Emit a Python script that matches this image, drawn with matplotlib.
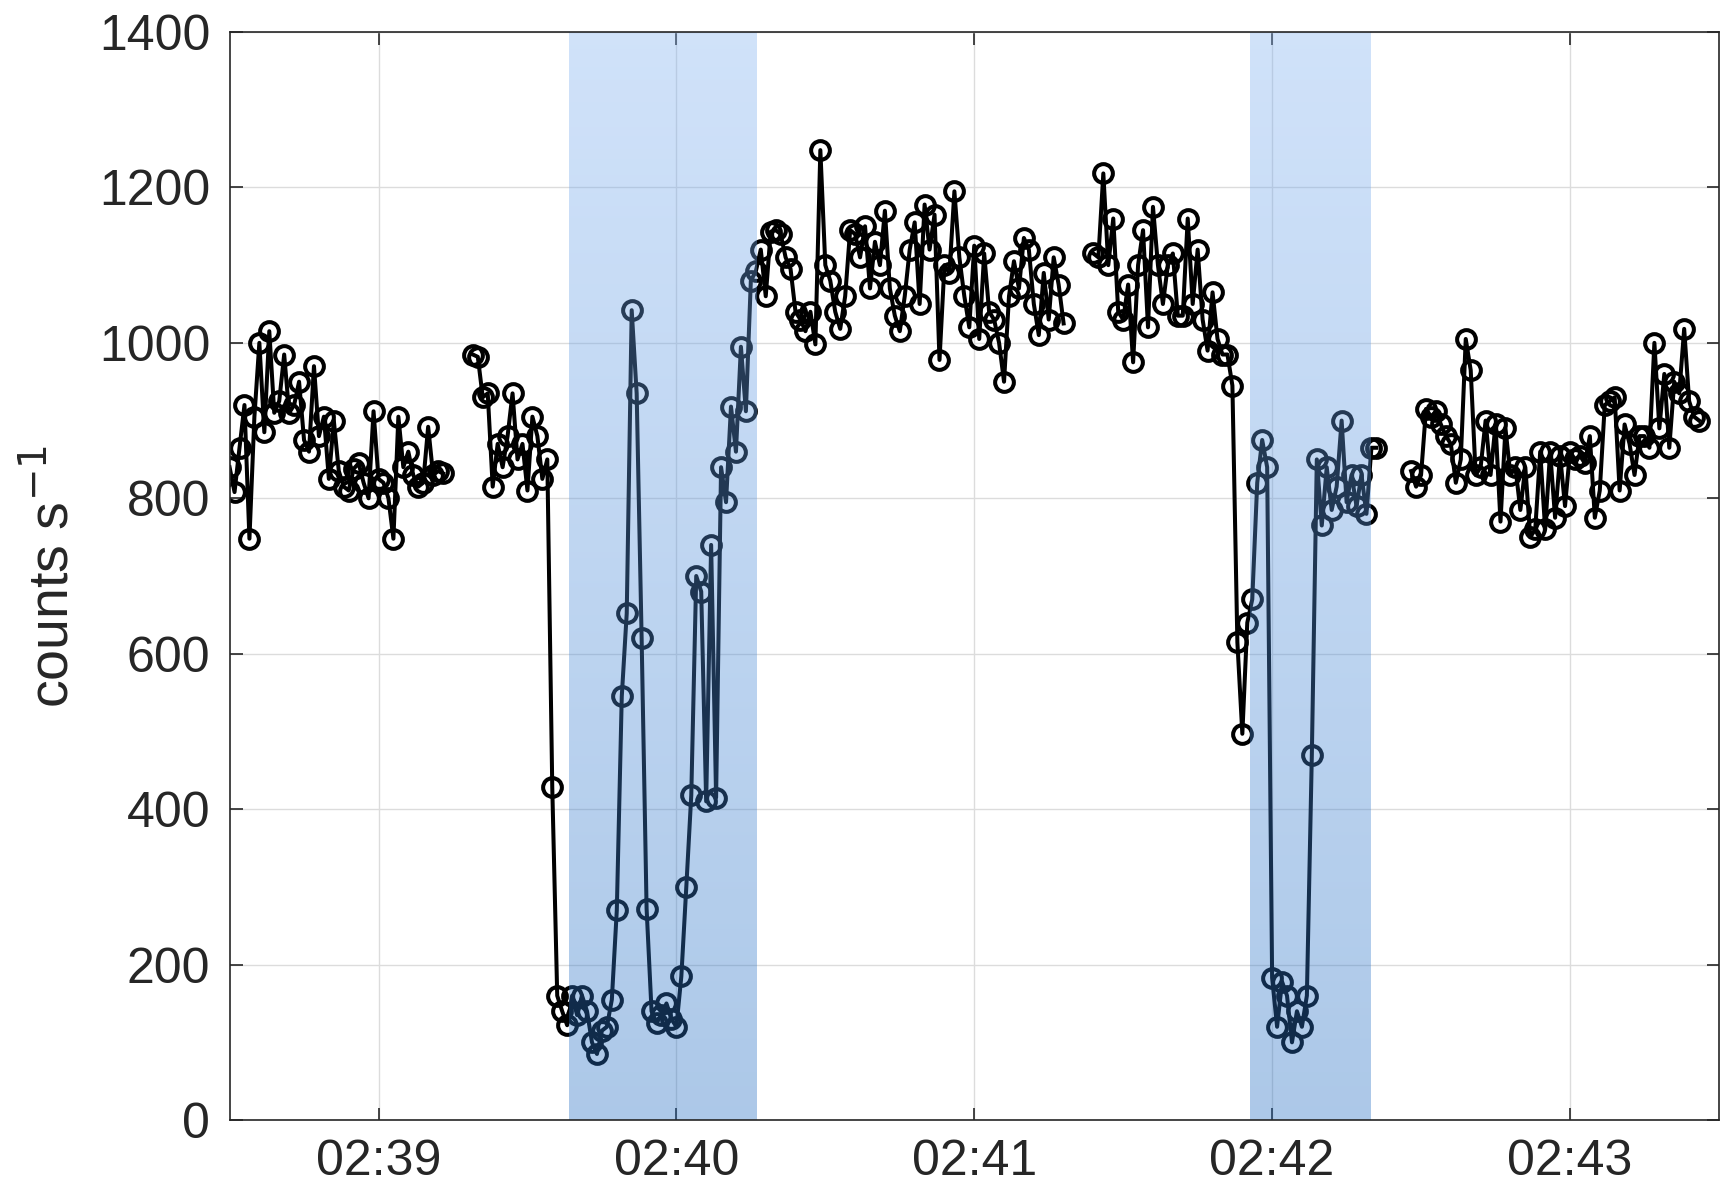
import numpy as np
import pandas as pd
import matplotlib
matplotlib.use('Agg')
import matplotlib.pyplot as plt
import matplotlib.dates as mdates

plt.rcParams['font.family'] = ['Liberation Sans', 'DejaVu Sans']

# clock time only is shown; day is arbitrary
t0 = pd.Timestamp('2000-01-01 02:38:30')

# 1 s samples, each segment: start offset (s after 02:38:30) and counts s^-1
seg1_start = 0
seg1 = [840, 808, 865, 920, 748, 905, 1000, 885, 1015, 910, 925, 985, 910, 920, 950,
        875, 860, 970, 880, 905, 825, 900, 835, 815, 810, 838, 845, 820, 800, 912,
        825, 820, 800, 748, 905, 840, 860, 830, 815, 820, 892, 830, 835, 832]

seg2_start = 49
seg2 = [985, 982, 930, 935, 815, 870, 840, 880, 935, 850, 870, 810, 905, 880, 825, 850,
        428, 160, 140, 122, 160, 135, 160, 140, 100, 85, 115, 120, 155, 270, 545, 652,
        1042, 935, 620, 272, 140, 125, 135, 150, 130, 120, 185, 300, 418, 700, 680, 410,
        740, 415, 840, 795, 918, 860, 995, 912, 1080,
        1092, 1120, 1060, 1143, 1145, 1140, 1110, 1095, 1040, 1030, 1015, 1040, 998, 1248,
        1100, 1080, 1040, 1018, 1060, 1145, 1140, 1110, 1150, 1070, 1130, 1100, 1170, 1070,
        1035, 1015, 1060, 1120, 1155, 1050, 1178, 1120, 1165, 978, 1100, 1090, 1195, 1110,
        1060, 1020, 1125, 1005, 1115, 1040, 1030, 1000, 950, 1060, 1105, 1070, 1135, 1120,
        1050, 1010, 1090, 1030, 1110, 1075, 1025]

seg3_start = 174
seg3 = [1115, 1110, 1218, 1100, 1160, 1040, 1030, 1075, 975, 1100, 1145, 1020, 1175, 1100,
        1050, 1100, 1115, 1035, 1035, 1160, 1050, 1120, 1030, 990, 1065, 1005, 985, 985,
        945, 615, 497, 640, 670, 820, 875, 840, 183, 120, 178, 160, 100, 140, 120, 160,
        470, 850, 765, 840, 785, 815, 900, 795, 830, 790, 830, 780, 865, 865]

seg4_start = 238
seg4 = [835, 815, 830, 915, 905, 912, 895, 880, 870, 820, 850, 1005, 965, 830, 840, 900,
        830, 895, 770, 890, 830, 840, 785, 840, 750, 760, 860, 760, 860, 775, 855, 790,
        860, 850, 855, 845, 880, 775, 810, 920, 925, 930, 810, 895, 870, 830, 880, 880,
        865, 1000, 890, 960, 865, 950, 935, 1018, 925, 905, 900]

segments = [(seg1_start, seg1), (seg2_start, seg2), (seg3_start, seg3), (seg4_start, seg4)]

# highlighted intervals
shade_starts = ['02:39:38.3', '02:41:55.6']
shade_ends = ['02:40:16.1', '02:42:19.9']

# build time axis, NaN between segments so the line breaks at gaps
tt = []
yy = []
for start, vals in segments:
    secs = start + np.arange(len(vals))
    tt.extend(list(t0 + pd.to_timedelta(secs, unit='s')))
    yy.extend(vals)
    tt.append(t0 + pd.to_timedelta(secs[-1] + 0.5, unit='s'))
    yy.append(np.nan)
tt = mdates.date2num(pd.DatetimeIndex(tt).to_pydatetime())
yy = np.array(yy, dtype=float)

fig = plt.figure(figsize=(17.30, 11.89), dpi=100)
ax = fig.add_axes([0.1327, 0.058, 0.8609, 0.9151])

ax.plot(tt, yy, '-o', color='k', lw=2.9, ms=13.5, mfc='none', mew=2.9, zorder=2)

# gradient shading on top of the data (semi-transparent)
top = np.array([131, 179, 242]) / 255.0
bot = np.array([36, 110, 195]) / 255.0
f = np.linspace(0, 1, 256)[:, None]
grad = np.zeros((256, 1, 4))
grad[:, 0, :3] = top * (1 - f) + bot * f
grad[:, 0, 3] = 0.38
for s, e in zip(shade_starts, shade_ends):
    x0 = mdates.date2num(pd.Timestamp('2000-01-01 ' + s).to_pydatetime())
    x1 = mdates.date2num(pd.Timestamp('2000-01-01 ' + e).to_pydatetime())
    ax.imshow(grad, extent=[x0, x1, 0, 1400], aspect='auto', origin='upper',
              interpolation='bilinear', zorder=3)

ax.set_xlim(mdates.date2num(t0.to_pydatetime()),
            mdates.date2num((t0 + pd.Timedelta(minutes=5)).to_pydatetime()))
ax.set_ylim(0, 1400)
ax.set_yticks(np.arange(0, 1401, 200))
ax.xaxis.set_major_locator(mdates.MinuteLocator())
ax.xaxis.set_major_formatter(mdates.DateFormatter('%H:%M'))

ax.grid(True, color='#dcdcdc', lw=1.0, zorder=0)
ax.set_axisbelow(True)
ax.tick_params(direction='in', length=9, width=1.2, top=True, right=True,
               labelsize=36, pad=14, colors='#262626')
for sp in ax.spines.values():
    sp.set_color('#262626')
    sp.set_linewidth(1.2)
    sp.set_zorder(5)

ax.set_ylabel('counts s$^{\\mathrm{-1}}$', fontsize=40, color='#262626', labelpad=14)

fig.savefig('out.png', dpi=100)
